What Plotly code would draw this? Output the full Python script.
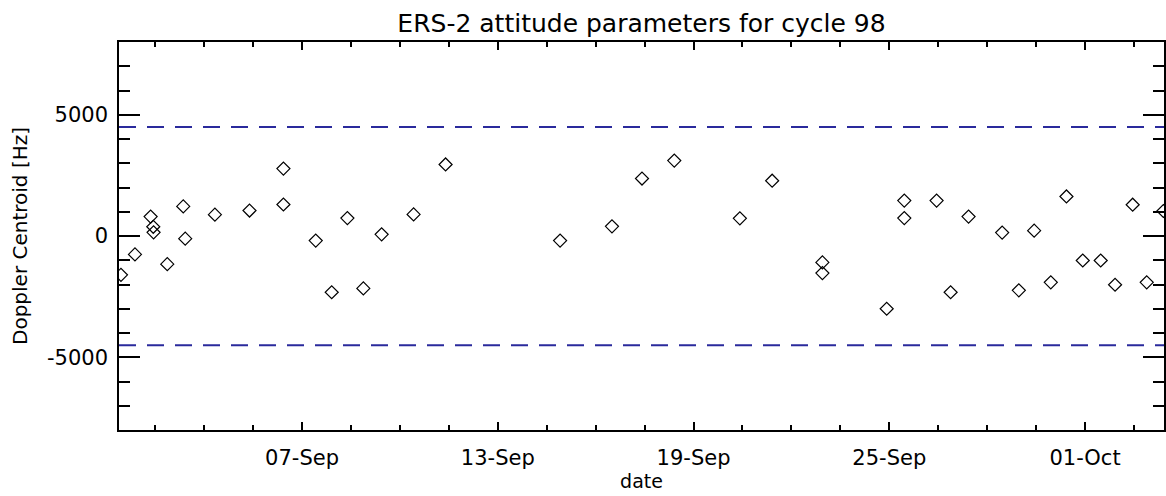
import plotly.graph_objects as go

# ---- data ----
dates = [
    "2004-09-01 10:48", "2004-09-01 21:07", "2004-09-02 08:38", "2004-09-02 10:34",
    "2004-09-02 10:48", "2004-09-02 20:53", "2004-09-03 08:38", "2004-09-03 10:05",
    "2004-09-04 07:55", "2004-09-05 09:22", "2004-09-06 10:19", "2004-09-06 10:19",
    "2004-09-07 10:05", "2004-09-07 21:50", "2004-09-08 09:22", "2004-09-08 21:07",
    "2004-09-09 10:34", "2004-09-10 10:05", "2004-09-11 09:36", "2004-09-14 21:50",
    "2004-09-16 12:00", "2004-09-17 10:05", "2004-09-18 09:50", "2004-09-20 10:05",
    "2004-09-21 09:50", "2004-09-22 22:48", "2004-09-22 22:48", "2004-09-24 22:05",
    "2004-09-25 11:02", "2004-09-25 11:02", "2004-09-26 10:48", "2004-09-26 21:07",
    "2004-09-27 10:19", "2004-09-28 11:02", "2004-09-28 23:17", "2004-09-29 10:34",
    "2004-09-29 22:48", "2004-09-30 10:19", "2004-09-30 22:19", "2004-10-01 11:31",
    "2004-10-01 22:05", "2004-10-02 11:02", "2004-10-02 21:22", "2004-10-03 09:36",
]
doppler = [
    -1600, -760, 800, 380,
    150, -1160, 1220, -110,
    880, 1050, 2780, 1300,
    -190, -2320, 740, -2160,
    70, 890, 2950, -190,
    400, 2370, 3110, 730,
    2280, -1090, -1530, -3000,
    1460, 740, 1460, -2320,
    800, 140, -2240, 220,
    -1910, 1630, -1010, -1010,
    -2010, 1290, -1910, 1030,
]
limits = [4500, -4500]

x_range = ["2004-09-01 09:22", "2004-10-03 10:05"]
x_tickvals = ["2004-09-07", "2004-09-13", "2004-09-19", "2004-09-25", "2004-10-01"]
x_ticktext = ["07-Sep", "13-Sep", "19-Sep", "25-Sep", "01-Oct"]
y_range = [-8000, 8000]
y_tickvals = [-5000, 0, 5000]
y_ticktext = ["-5000", "0", "5000"]

FONT = "DejaVu Sans"

fig = go.Figure()
fig.add_trace(go.Scatter(
    x=dates, y=doppler, mode="markers",
    marker=dict(symbol="diamond-open", size=10, color="black", line=dict(width=1.2, color="black")),
    showlegend=False,
))
for lim in limits:
    fig.add_hline(y=lim, line=dict(color="#2a2a9c", width=2, dash="17px,11px"))

fig.update_layout(
    width=1166, height=496,
    margin=dict(l=119, r=2, t=42, b=66, autoexpand=False),
    paper_bgcolor="white", plot_bgcolor="white",
    font=dict(family=FONT, color="black", size=20),
    title=dict(text="ERS-2 attitude parameters for cycle 98", x=0.5, xref="paper",
               y=1 - 23 / 496, yref="container", xanchor="center", yanchor="middle",
               font=dict(family=FONT, size=25, color="black")),
)
fig.update_xaxes(
    type="date", range=x_range, automargin=False,
    tickmode="array", tickvals=x_tickvals, ticktext=x_ticktext,
    ticks="inside", ticklen=8, tickwidth=1.5, tickcolor="black",
    minor=dict(tickmode="linear", tick0="2004-09-07", dtick=1.5 * 86400000,
               ticks="inside", ticklen=5, tickwidth=1.5, tickcolor="black"),
    showline=True, linecolor="black", linewidth=1.5, mirror="ticks",
    showgrid=False, zeroline=False,
    ticklabelstandoff=8,
    tickfont=dict(size=21),
    title=dict(text="date", standoff=4, font=dict(size=19)),
)
fig.update_yaxes(
    range=y_range, automargin=False,
    tickmode="array", tickvals=y_tickvals, ticktext=y_ticktext,
    ticks="inside", ticklen=21, tickwidth=1.5, tickcolor="black",
    minor=dict(tickmode="linear", tick0=0, dtick=1000,
               ticks="inside", ticklen=11, tickwidth=1.5, tickcolor="black"),
    showline=True, linecolor="black", linewidth=1.5, mirror="ticks",
    showgrid=False, zeroline=False,
    ticklabelstandoff=5,
    tickfont=dict(size=21),
    title=dict(text="Doppler Centroid [Hz]", standoff=14, font=dict(size=20)),
)

fig.write_html(
    "out.html",
    config={"responsive": False, "displayModeBar": False},
    post_script="document.body.style.margin='0px';document.body.style.overflow='hidden';",
)
